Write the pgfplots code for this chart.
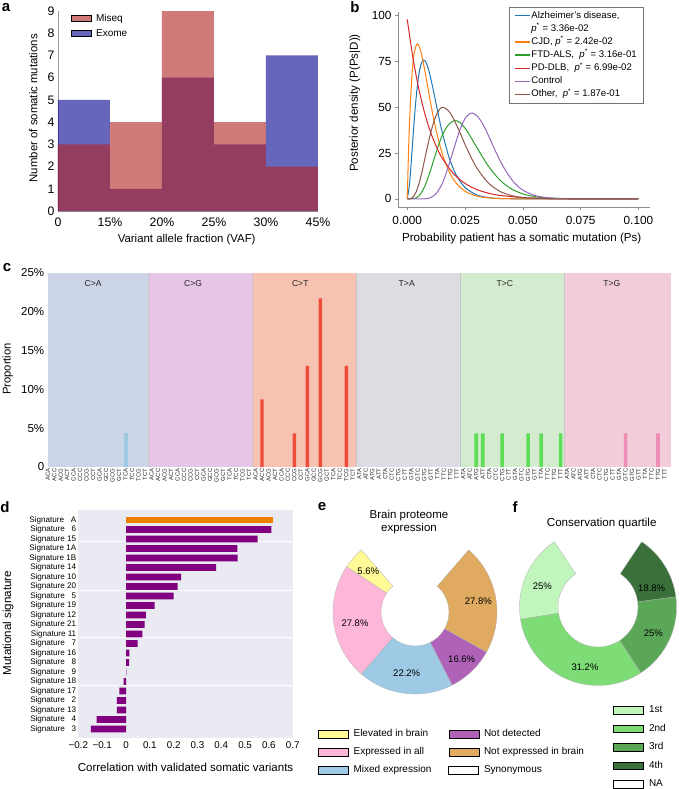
\documentclass[border=0pt]{standalone}
\usepackage{pgfplots}
\pgfplotsset{compat=1.18}
\usepackage{fontspec}
\setmainfont{Liberation Sans}
\newcommand\fs[1]{\fontsize{#1}{#1}\selectfont}
\definecolor{exome}{RGB}{0,0,145}
\definecolor{miseq}{RGB}{178,34,34}
\definecolor{tblue}{HTML}{1F77B4}
\definecolor{torange}{HTML}{FF7F0E}
\definecolor{tgreen}{HTML}{2CA02C}
\definecolor{tred}{HTML}{D62728}
\definecolor{tpurple}{HTML}{9467BD}
\definecolor{tbrown}{HTML}{8C564B}
\definecolor{sCA}{HTML}{CBD5E7}
\definecolor{sCG}{HTML}{E6C5E6}
\definecolor{sCT}{HTML}{F6C3B3}
\definecolor{sTA}{HTML}{DEDCE3}
\definecolor{sTC}{HTML}{D4EBD0}
\definecolor{sTG}{HTML}{F3CCD9}
\definecolor{bCA}{HTML}{9ECAE1}
\definecolor{bCT}{HTML}{EE4D3A}
\definecolor{bTC}{HTML}{5EDD58}
\definecolor{bTG}{HTML}{F08DB5}
\definecolor{sbgray}{HTML}{EAEAF2}
\definecolor{sigpurple}{HTML}{800080}
\definecolor{sigorange}{HTML}{EE8000}
\definecolor{eyellow}{RGB}{255,250,150}
\definecolor{epink}{RGB}{254,183,216}
\definecolor{eblue}{RGB}{158,202,230}
\definecolor{epurple}{RGB}{176,98,184}
\definecolor{ebrown}{RGB}{224,170,96}
\definecolor{fa}{RGB}{192,245,188}
\definecolor{fb}{RGB}{125,220,118}
\definecolor{fc}{RGB}{91,167,88}
\definecolor{fd}{RGB}{58,113,58}
\newcommand\donutwedge[5]{%
  \filldraw[fill=#5, draw=black!30, line width=0.3pt] (axis cs:0,0) ++(#3:#1pt)
    arc[start angle=#3, end angle=#4, radius=#1pt]
    -- ++({#4+180}:{(#1-#2)*1pt})
    arc[start angle=#4, end angle=#3, radius=#2pt] -- cycle;}
\newcommand\pst{\textit{p}\textsuperscript{*}}
\pgfplotsset{every axis/.append style={/pgf/number format/assume math mode=true}}
\begin{document}
\begin{tikzpicture}
\useasboundingbox (0pt,0pt) rectangle (678pt,-789pt);
% panel letters
\node[font=\bfseries\fs{15}] at (6pt,-8pt) {a};
\node[font=\bfseries\fs{15}] at (355pt,-7pt) {b};
\node[font=\bfseries\fs{15}] at (7pt,-268pt) {c};
\node[font=\bfseries\fs{15}] at (5pt,-507pt) {d};
\node[font=\bfseries\fs{15}] at (322pt,-507pt) {e};
\node[font=\bfseries\fs{15}] at (515pt,-507pt) {f};

% ---------------- panel a
\begin{axis}[at={(58pt,-211pt)}, anchor=south west, scale only axis,
  width=260pt, height=200pt, xmin=0, xmax=5, ymin=0, ymax=9,
  axis x line*=bottom, axis y line*=left,
  axis line style={black!40, line width=0.8pt, -},
  xtick={0,...,5}, xticklabels={0,15\%,20\%,25\%,30\%,45\%}, ytick={0,...,9},
  major tick length=0pt, ticklabel style={font=\fs{12.3}},
  xticklabel style={yshift=-3.5pt},
  xlabel={Variant allele fraction (VAF)}, ylabel={Number of somatic mutations},
  every axis x label/.style={at={(axis description cs:0.495,-0.142)},anchor=center,font=\fs{11.4}},
  every axis y label/.style={at={(axis description cs:-0.095,0.514)},anchor=center,rotate=90,font=\fs{11.4}},
  legend style={at={(rel axis cs:0.05,0.995)}, anchor=north west, draw=none, fill=none,
    font=\fs{10}, inner sep=0pt, row sep=4pt,
    nodes={inner sep=1.5pt, text height=7.5pt, text depth=1pt},
    /tikz/every odd column/.append style={column sep=3pt}},
  legend image code/.code={\fill[#1] (0pt,-3pt) rectangle (20pt,3pt);},
  legend cell align=left]
\addplot[const plot, fill=exome, fill opacity=0.6, draw=none, forget plot]
  coordinates {(0,5)(1,1)(2,6)(3,3)(4,7)(5,7)} \closedcycle;
\addplot[const plot, fill=miseq, fill opacity=0.6, draw=none, forget plot]
  coordinates {(0,3)(1,4)(2,9)(3,4)(4,2)(5,2)} \closedcycle;
\addlegendimage{fill=miseq, fill opacity=0.6}
\addlegendentry{Miseq}
\addlegendimage{fill=exome, fill opacity=0.6}
\addlegendentry{Exome}
\end{axis}

% ---------------- panel b
\begin{axis}[at={(398pt,-207pt)}, anchor=south west, scale only axis,
  width=252pt, height=195pt, xmin=-0.004, xmax=0.105, ymin=-4.4, ymax=102,
  axis x line*=bottom, axis y line*=left,
  axis line style={black!45, line width=0.7pt, -},
  tick align=outside, major tick length=3pt, tick style={black!45, line width=0.6pt},
  xtick={0,0.025,0.05,0.075,0.1}, xticklabels={0.000,0.025,0.050,0.075,0.100},
  ytick={0,25,50,75,100},
  ticklabel style={font=\fs{11.8}},
  xticklabel style={yshift=-2.5pt},
  xlabel={Probability patient has a somatic mutation (Ps)},
  ylabel={Posterior density (P(Ps|D))},
  every axis x label/.style={at={(axis description cs:0.491,-0.164)},anchor=center,font=\fs{11.6}},
  every axis y label/.style={at={(axis description cs:-0.171,0.533)},anchor=center,rotate=90,font=\fs{11.6}},
  legend style={at={(rel axis cs:0.973,1.027)}, anchor=north east, draw=black!55,
    line width=0.6pt, fill=white, font=\fs{9.6}, inner xsep=5pt, inner ysep=3pt, row sep=1.5pt,
    nodes={inner sep=1.2pt, text height=7pt, text depth=2.2pt}},
  legend image code/.code={\draw[#1, line width=1.3pt] (0pt,0pt) -- (15pt,0pt);},
  legend cell align=left]
\addplot[tblue, line width=1pt, smooth] coordinates {(0,0)(0.001,8.3)(0.002,25.1)(0.003,42.6)(0.004,57.3)(0.005,67.7)(0.006,73.6)(0.007,75.8)(0.008,74.8)(0.009,71.5)(0.010,66.7)(0.011,61.0)(0.012,54.9)(0.013,48.7)(0.015,37.0)(0.018,23.0)(0.021,13.5)(0.025,6.26)(0.030,2.22)(0.035,0.75)(0.040,0.24)(0.050,0.02)(0.060,0)(0.100,0)};
\addlegendentry{Alzheimer's disease,}
\addlegendimage{empty legend}
\addlegendentry{\pst{} = 3.36e-02}
\addplot[torange, line width=1pt, smooth] coordinates {(0,0)(0.0005,23.6)(0.001,42.0)(0.002,66.8)(0.003,79.6)(0.0044,84.6)(0.006,79.9)(0.008,67.2)(0.010,53.1)(0.012,40.2)(0.015,25.2)(0.018,15.2)(0.021,8.9)(0.025,4.2)(0.030,1.6)(0.035,0.59)(0.040,0.21)(0.050,0.02)(0.060,0)(0.100,0)};
\addlegendentry{CJD, \pst{} = 2.42e-02}
\addplot[tgreen, line width=1pt, smooth] coordinates {(0,0)(0.004,0.68)(0.006,3.17)(0.008,8.2)(0.010,15.3)(0.012,23.4)(0.014,31.0)(0.016,37.0)(0.018,40.7)(0.0205,42.8)(0.023,41.5)(0.026,36.8)(0.030,28.3)(0.035,18.1)(0.040,10.4)(0.045,5.5)(0.050,2.76)(0.055,1.31)(0.060,0.60)(0.070,0.11)(0.080,0.02)(0.100,0)};
\addlegendentry{FTD-ALS,\ \ \pst{} = 3.16e-01}
\addplot[tred, line width=1pt, smooth] coordinates {(0,98)(0.0025,76.7)(0.005,60.0)(0.0075,47.0)(0.010,36.7)(0.0125,28.8)(0.015,22.5)(0.020,13.8)(0.025,8.46)(0.030,5.18)(0.035,3.18)(0.040,1.95)(0.050,0.73)(0.060,0.27)(0.070,0.10)(0.080,0.04)(0.100,0.01)};
\addlegendentry{PD-DLB,\ \ \pst{} = 6.99e-02}
\addplot[tpurple, line width=1pt, smooth] coordinates {(0,0)(0.0076,0.09)(0.0102,0.76)(0.0127,3.24)(0.0153,8.86)(0.0178,17.75)(0.0204,28.4)(0.0229,38.1)(0.0254,44.7)(0.028,46.9)(0.0305,44.9)(0.0331,39.9)(0.0356,33.2)(0.0382,26.0)(0.0407,19.5)(0.0433,14.0)(0.0458,9.6)(0.0483,6.4)(0.0509,4.16)(0.056,1.6)(0.0636,0.33)(0.075,0.02)(0.100,0)};
\addlegendentry{Control}
\addplot[tbrown, line width=1pt, smooth] coordinates {(0,0)(0.002,0.44)(0.004,4.21)(0.006,12.78)(0.008,24.2)(0.010,35.4)(0.012,44.0)(0.014,48.9)(0.0156,50.0)(0.018,47.9)(0.020,43.8)(0.023,35.6)(0.026,26.9)(0.030,17.1)(0.035,8.83)(0.040,4.19)(0.045,1.87)(0.050,0.79)(0.060,0.13)(0.070,0.02)(0.100,0)};
\addlegendentry{Other,\ \ \pst{} = 1.87e-01}
\end{axis}

% ---------------- panel c
\begin{axis}[at={(47.7pt,-467pt)}, anchor=south west, scale only axis,
  width=623.3pt, height=194pt, xmin=0, xmax=96, ymin=0, ymax=25,
  axis line style={draw=none}, major tick length=0pt, clip=false,
  xtick={0,...,95},
  xticklabels={ACA,ACC,ACG,ACT,CCA,CCC,CCG,CCT,GCA,GCC,GCG,GCT,TCA,TCC,TCG,TCT,
    ACA,ACC,ACG,ACT,CCA,CCC,CCG,CCT,GCA,GCC,GCG,GCT,TCA,TCC,TCG,TCT,
    ACA,ACC,ACG,ACT,CCA,CCC,CCG,CCT,GCA,GCC,GCG,GCT,TCA,TCC,TCG,TCT,
    ATA,ATC,ATG,ATT,CTA,CTC,CTG,CTT,GTA,GTC,GTG,GTT,TTA,TTC,TTG,TTT,
    ATA,ATC,ATG,ATT,CTA,CTC,CTG,CTT,GTA,GTC,GTG,GTT,TTA,TTC,TTG,TTT,
    ATA,ATC,ATG,ATT,CTA,CTC,CTG,CTT,GTA,GTC,GTG,GTT,TTA,TTC,TTG,TTT},
  xticklabel style={rotate=90, anchor=east, font=\fs{6}, inner sep=1.2pt, text=black!85},
  ytick={0,5,...,25}, yticklabels={0,5\%,10\%,15\%,20\%,25\%},
  yticklabel style={font=\fs{11.5}},
  ylabel={Proportion},
  every axis y label/.style={at={(axis description cs:-0.064,0.505)},anchor=center,rotate=90,font=\fs{11.2}}]
\addplot[fill=sCA, draw=none] coordinates {(0,25)(15.5,25)} \closedcycle;
\addplot[fill=sCG, draw=none] coordinates {(15.5,25)(31.5,25)} \closedcycle;
\addplot[fill=sCT, draw=none] coordinates {(31.5,25)(47.5,25)} \closedcycle;
\addplot[fill=sTA, draw=none] coordinates {(47.5,25)(63.5,25)} \closedcycle;
\addplot[fill=sTC, draw=none] coordinates {(63.5,25)(79.5,25)} \closedcycle;
\addplot[fill=sTG, draw=none] coordinates {(79.5,25)(96,25)} \closedcycle;
\addplot[black!22, line width=0.6pt] coordinates {(15.5,0)(15.5,25)};
\addplot[black!22, line width=0.6pt] coordinates {(31.5,0)(31.5,25)};
\addplot[black!22, line width=0.6pt] coordinates {(47.5,0)(47.5,25)};
\addplot[black!22, line width=0.6pt] coordinates {(63.5,0)(63.5,25)};
\addplot[black!22, line width=0.6pt] coordinates {(79.5,0)(79.5,25)};
\addplot[ybar, bar width=3.8pt, bar shift=0pt, fill=bCA, draw=none] coordinates {(12,4.35)};
\addplot[ybar, bar width=3.4pt, bar shift=0pt, fill=bCT, draw=none] coordinates {(33,8.70)(38,4.35)(40,13.04)(42,21.74)(46,13.04)};
\addplot[ybar, bar width=3.6pt, bar shift=0pt, fill=bTC, draw=none] coordinates {(66,4.35)(67,4.35)(70,4.35)(74,4.35)(76,4.35)(79,4.35)};
\addplot[ybar, bar width=3.6pt, bar shift=0pt, fill=bTG, draw=none] coordinates {(89,4.35)(94,4.35)};
\node[font=\fs{8.6}, text=black!85] at (axis cs:7.0,23.58) {C>A};
\node[font=\fs{8.6}, text=black!85] at (axis cs:22.4,23.58) {C>G};
\node[font=\fs{8.6}, text=black!85] at (axis cs:38.9,23.58) {C>T};
\node[font=\fs{8.6}, text=black!85] at (axis cs:55.3,23.58) {T>A};
\node[font=\fs{8.6}, text=black!85] at (axis cs:70.4,23.58) {T>C};
\node[font=\fs{8.6}, text=black!85] at (axis cs:86.9,23.58) {T>G};
\end{axis}

% ---------------- panel d
\begin{axis}[at={(78.4pt,-738pt)}, anchor=south west, scale only axis,
  width=214.3pt, height=228pt, xmin=-0.2, xmax=0.7, ymin=-1.05, ymax=22.95,
  y dir=reverse, axis background/.style={fill=sbgray},
  axis line style={draw=none}, major tick length=0pt,
  xtick={-0.2,-0.1,0,0.1,0.2,0.3,0.4,0.5,0.6,0.7},
  xticklabels={−0.2,−0.1,0,0.1,0.2,0.3,0.4,0.5,0.6,0.7},
  ytick={0,...,22},
  yticklabels={Signature \hphantom{0}A,Signature \hphantom{0}6,Signature 15,Signature 1A,
    Signature 1B,Signature 14,Signature 10,Signature 20,Signature \hphantom{0}5,
    Signature 19,Signature 12,Signature 21,Signature 11,Signature \hphantom{0}7,
    Signature 16,Signature \hphantom{0}8,Signature \hphantom{0}9,Signature 18,
    Signature 17,Signature \hphantom{0}2,Signature 13,Signature \hphantom{0}4,
    Signature \hphantom{0}3},
  xticklabel style={font=\fs{9.8}},
  yticklabel style={font=\fs{8.1}, inner sep=2pt},
  xlabel={Correlation with validated somatic variants},
  ylabel={Mutational signature},
  every axis x label/.style={at={(axis description cs:0.5,-0.1285)},anchor=center,font=\fs{11.5}},
  every axis y label/.style={at={(axis description cs:-0.3285,0.504)},anchor=center,rotate=90,font=\fs{11.6}}]
\addplot[white, line width=0.8pt] coordinates {(-0.2,2.3)(0.7,2.3)};
\addplot[white, line width=0.8pt] coordinates {(-0.2,7.37)(0.7,7.37)};
\addplot[white, line width=0.8pt] coordinates {(-0.2,12.35)(0.7,12.35)};
\addplot[white, line width=0.8pt] coordinates {(-0.2,17.37)(0.7,17.37)};
\addplot[xbar, bar width=6.7pt, bar shift=0pt, fill=sigorange, draw=none] coordinates {(0.616,0)};
\addplot[xbar, bar width=6.7pt, bar shift=0pt, fill=sigpurple, draw=none] coordinates {
 (0.610,1)(0.553,2)(0.468,3)(0.469,4)(0.378,5)(0.231,6)(0.217,7)(0.200,8)(0.120,9)
 (0.083,10)(0.078,11)(0.069,12)(0.049,13)(0.014,14)(0.013,15)(0.001,16)(-0.010,17)
 (-0.028,18)(-0.038,19)(-0.038,20)(-0.123,21)(-0.148,22)};
\end{axis}

% ---------------- panel e
\begin{axis}[at={(415pt,-612pt)}, anchor=center, x=1pt, y=1pt,
  xmin=-100, xmax=100, ymin=-100, ymax=100, hide axis, clip=false,
  legend columns=2,
  legend style={at={(axis cs:-97,-117)}, anchor=north west, draw=none, fill=none,
    font=\fs{10}, inner sep=0pt, row sep=8pt,
    nodes={inner sep=0pt, text height=7.5pt, text depth=2.5pt},
    /tikz/every odd column/.append style={column sep=5pt},
    /tikz/every even column/.append style={column sep=17pt}},
  legend image code/.code={\path[#1] (0pt,-3.6pt) rectangle (30pt,3.6pt);},
  legend cell align=left]
\donutwedge{82}{34}{130.8}{146.5}{eyellow}
\donutwedge{82}{34}{146.5}{229.3}{epink}
\donutwedge{82}{34}{229.3}{297}{eblue}
\donutwedge{82}{34}{297}{330.8}{epurple}
\donutwedge{82}{34}{330.8}{409.2}{ebrown}
\node[font=\fs{9.5}] at (axis cs:-46.7,40.3) {5.6\%};
\node[font=\fs{9.5}] at (axis cs:-60,-11.3) {27.8\%};
\node[font=\fs{9.5}] at (axis cs:-8.3,-61.3) {22.2\%};
\node[font=\fs{9.5}] at (axis cs:46.7,-47.3) {16.6\%};
\node[font=\fs{9.5}] at (axis cs:63.3,10.3) {27.8\%};
\node[font=\fs{11.5}, align=center] at (axis cs:-6,89.5) {Brain proteome\\[1.5pt]expression};
\addlegendimage{fill=eyellow}
\addlegendentry{Elevated in brain}
\addlegendimage{fill=epurple}
\addlegendentry{Not detected}
\addlegendimage{fill=epink}
\addlegendentry{Expressed in all}
\addlegendimage{fill=ebrown}
\addlegendentry{Not expressed in brain}
\addlegendimage{fill=eblue}
\addlegendentry{Mixed expression}
\addlegendimage{fill=white, draw=black, line width=0.6pt}
\addlegendentry{Synonymous}
\end{axis}

% ---------------- panel f
\begin{axis}[at={(598pt,-607pt)}, anchor=center, x=1pt, y=1pt,
  xmin=-100, xmax=100, ymin=-100, ymax=100, hide axis, clip=false,
  legend style={at={(axis cs:14.7,-98)}, anchor=north west, draw=none, fill=none,
    font=\fs{10}, inner sep=0pt, row sep=8.5pt,
    nodes={inner sep=0pt, text height=7.5pt, text depth=2.5pt},
    /tikz/every odd column/.append style={column sep=5.5pt}},
  legend image code/.code={\path[#1] (0pt,-3.6pt) rectangle (30pt,3.6pt);},
  legend cell align=left]
\donutwedge{78.5}{40}{123.8}{189}{fa}
\donutwedge{78.5}{40}{189}{303.1}{fb}
\donutwedge{78.5}{40}{303.1}{367.5}{fc}
\donutwedge{78.5}{40}{367.5}{416.2}{fd}
\node[font=\fs{9.5}] at (axis cs:-55.7,20.3) {25\%};
\node[font=\fs{9.5}] at (axis cs:-13,-60.3) {31.2\%};
\node[font=\fs{9.5}] at (axis cs:55.3,-26.3) {25\%};
\node[font=\fs{9.5}] at (axis cs:53.7,18.7) {18.8\%};
\node[font=\fs{11.6}] at (axis cs:3.7,84) {Conservation quartile};
\addlegendimage{fill=fa}
\addlegendentry{1st}
\addlegendimage{fill=fb}
\addlegendentry{2nd}
\addlegendimage{fill=fc}
\addlegendentry{3rd}
\addlegendimage{fill=fd}
\addlegendentry{4th}
\addlegendimage{fill=white, draw=black, line width=0.6pt}
\addlegendentry{NA}
\end{axis}
\end{tikzpicture}
\end{document}
